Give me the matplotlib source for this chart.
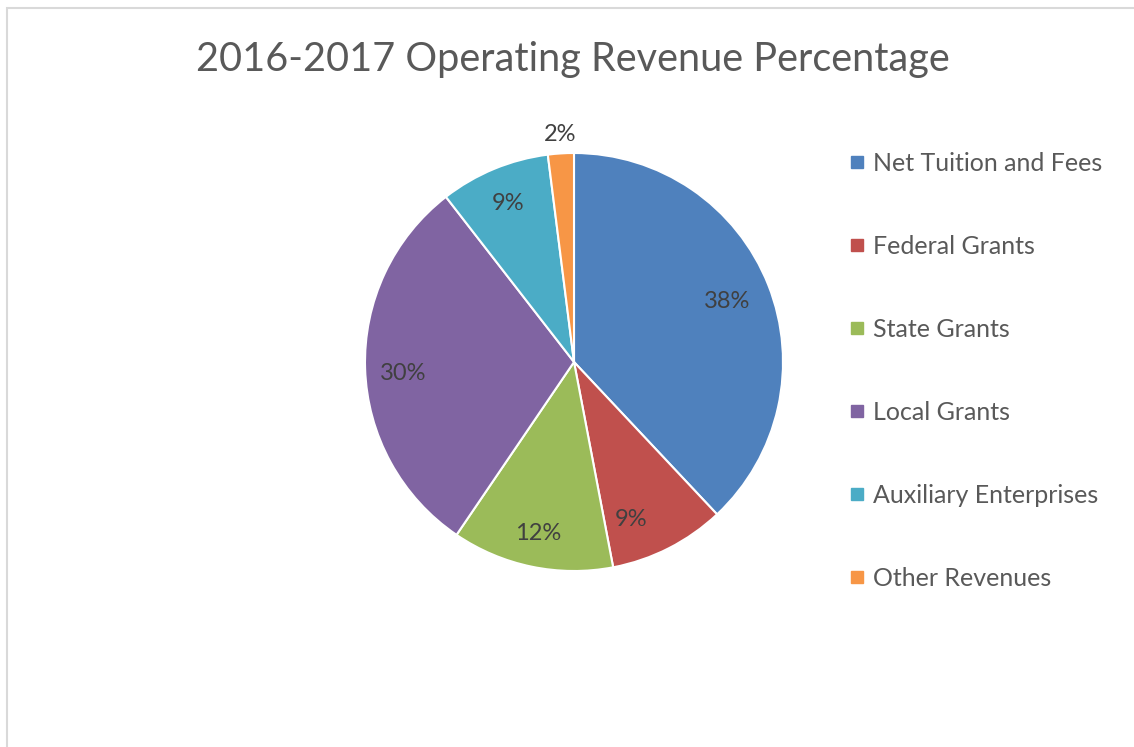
import matplotlib
matplotlib.use('Agg')
import matplotlib.pyplot as plt
from matplotlib.lines import Line2D
from matplotlib.patches import Rectangle
import numpy as np

categories = ['Net Tuition and Fees', 'Federal Grants', 'State Grants',
              'Local Grants', 'Auxiliary Enterprises', 'Other Revenues']
shares = [38, 9, 12.5, 30, 8.5, 2]
pct_labels = ['38%', '9%', '12%', '30%', '9%', '2%']
colors = ['#4F81BD', '#C0504D', '#9BBB59', '#8064A2', '#4BACC6', '#F79646']

plt.rcParams['font.family'] = ['Lato', 'DejaVu Sans']

W, H = 1134, 747
fig = plt.figure(figsize=(W / 100, H / 100), dpi=100)
fig.patches.append(Rectangle((6.5 / W, -0.1), 2.0, (H - 7.5) / H + 0.1,
                             transform=fig.transFigure, fill=False,
                             edgecolor='#D9D9D9', linewidth=1.5))

cx, cy, R = 574, 362, 209
ax = fig.add_axes([(cx - R) / W, (H - cy - R) / H, 2 * R / W, 2 * R / H])

wedges, texts = ax.pie(shares, colors=colors, startangle=90, counterclock=False,
                       radius=1.0, wedgeprops=dict(edgecolor='white', linewidth=1.5))
ax.set_xlim(-1, 1)
ax.set_ylim(-1, 1)
ax.set_aspect('equal')

# label placement (fraction of radius, small angle tweaks like excel's best fit)
dist = [0.79, 0.80, 0.84, 0.82, 0.82, 1.09]
shift = [0, 7, 0, -2, 0, 0]
for w, lab, d, s in zip(wedges, pct_labels, dist, shift):
    mid = np.deg2rad((w.theta1 + w.theta2) / 2 - s)
    ax.text(d * np.cos(mid), d * np.sin(mid), lab, ha='center', va='center',
            fontsize=17, color='#404040')

fig.text(573 / W, 1 - 60 / H, '2016-2017 Operating Revenue Percentage',
         ha='center', va='center', fontsize=28.5, color='#595959')

handles = [Line2D([], [], marker='s', linestyle='none', markersize=8,
                  markerfacecolor=c, markeredgecolor=c) for c in colors]
leg = fig.legend(handles, categories, loc='upper left',
                 bbox_to_anchor=(851 / W, 1 - 152 / H), frameon=False,
                 fontsize=18, labelspacing=2.4, handlelength=0.5,
                 handletextpad=0.39, borderpad=0, borderaxespad=0)
for t in leg.get_texts():
    t.set_color('#595959')

fig.savefig('out.png', dpi=100)
